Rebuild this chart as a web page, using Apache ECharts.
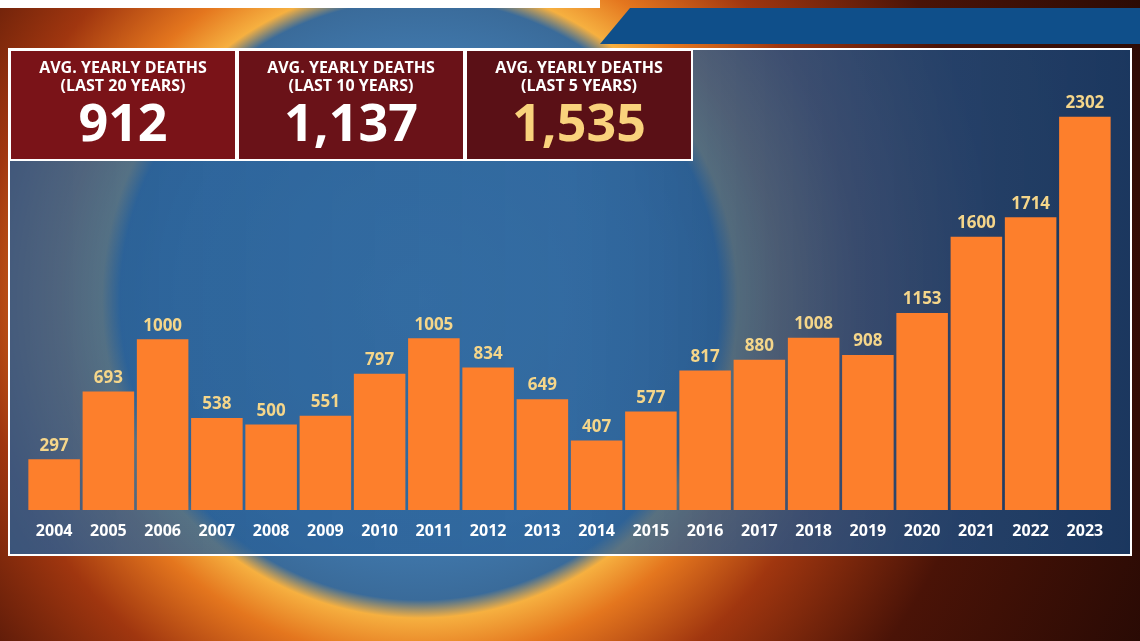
<!DOCTYPE html>
<html><head><meta charset="utf-8">
<script src="https://cdn.jsdelivr.net/npm/echarts@6/dist/echarts.min.js"></script>
<style>
html,body{margin:0;padding:0;width:1140px;height:641px;overflow:hidden}
body{background:radial-gradient(circle at 420px 300px,#4b89bb 0,#4078ac 240px,#3a6b9a 300px,#f6b040 318px,#e4761e 360px,#a0360f 440px,#4a1307 580px,#1a0603 900px)}
#chart{width:1140px;height:641px}
</style></head><body>
<div id="chart"></div>
<script>
// yearly heat deaths
var years = ['2004','2005','2006','2007','2008','2009','2010','2011','2012','2013','2014','2015','2016','2017','2018','2019','2020','2021','2022','2023']
var deaths = [297,693,1000,538,500,551,797,1005,834,649,407,577,817,880,1008,908,1153,1600,1714,2302]
var boxTitles = ['AVG. YEARLY DEATHS\n(LAST 20 YEARS)','AVG. YEARLY DEATHS\n(LAST 10 YEARS)','AVG. YEARLY DEATHS\n(LAST 5 YEARS)']
var boxValues = ['912','1,137','1,535']
var boxColors = ['#7a1318','#6a1218','#5a1016']
var boxValueColors = ['#ffffff','#ffffff','#f9d27c']

var chart = echarts.init(document.getElementById('chart'))
var graphics = [
    {type:'rect', shape:{x:0,y:0,width:600,height:8}, style:{fill:'#ffffff'}},
    {type:'polygon', shape:{points:[[630,8],[1140,8],[1140,44],[600,44]]}, style:{fill:'#0f4f8a'}},
    {type:'rect', shape:{x:9,y:49,width:1122,height:506}, style:{
        fill:{type:'linear', x:0, y:0, x2:1, y2:0, colorStops:[
            {offset:0, color:'rgba(40,95,150,0.80)'},
            {offset:0.5, color:'rgba(45,100,155,0.75)'},
            {offset:1, color:'rgba(25,60,105,0.90)'}]},
        stroke:'#ffffff', lineWidth:2}}
]
boxTitles.forEach(function(t,i){
    var x = 10 + i*228
    graphics.push({type:'rect', shape:{x:x,y:50,width:226,height:110}, style:{fill:boxColors[i], stroke:'#ffffff', lineWidth:2}})
    graphics.push({type:'text', x:x+113, y:59, style:{text:t, fill:'#ffffff', font:'bold 16px "Open Sans", sans-serif', align:'center', lineHeight:18}})
    graphics.push({type:'text', x:x+113, y:100, style:{text:boxValues[i], fill:boxValueColors[i], font:'bold 52px "Open Sans", sans-serif', align:'center'}})
})
chart.setOption({
    graphic: graphics,
    grid: {left:27, right:28, top:100, bottom:131},
    xAxis: {type:'category', data:years, axisLine:{show:false}, axisTick:{show:false},
        axisLabel:{color:'#ffffff', fontWeight:'bold', fontSize:16, fontFamily:'"Open Sans", sans-serif', margin:13}},
    yAxis: {type:'value', min:0, max:2400, show:false},
    series: [{type:'bar', data:deaths, barCategoryGap:'5%',
        itemStyle:{color:'#fd7f2c'},
        label:{show:true, position:'top', color:'#f5d68a', fontWeight:'bold', fontSize:17, fontFamily:'"Open Sans", sans-serif', distance:5}}]
})
</script>
</body></html>
